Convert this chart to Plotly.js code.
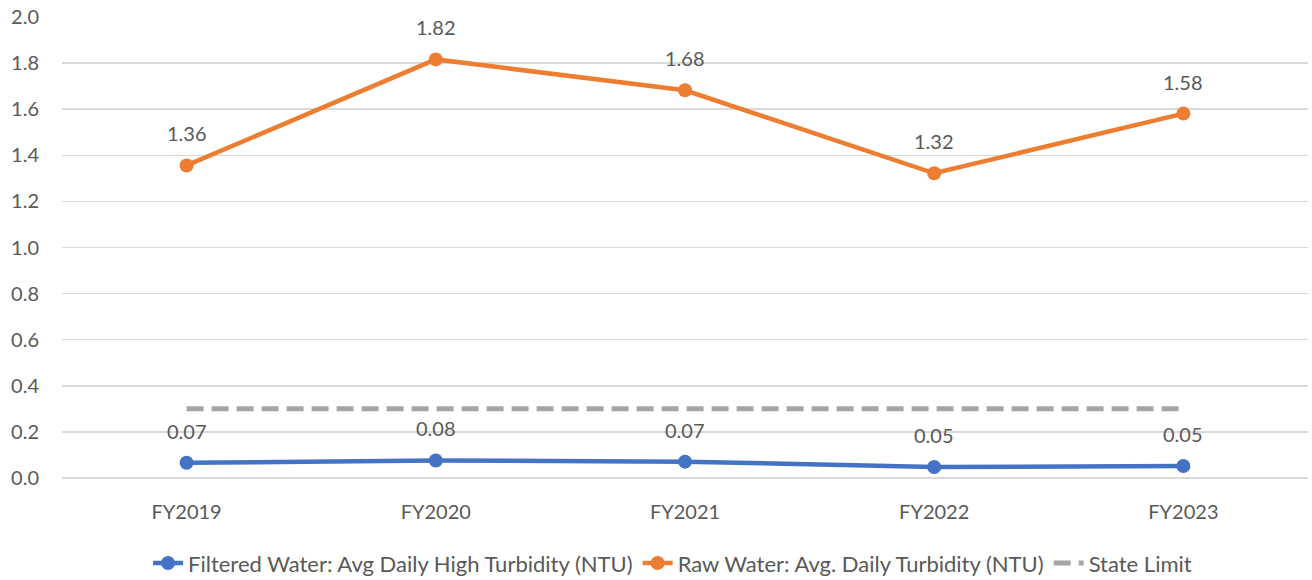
<!DOCTYPE html>
<html>
<head>
<meta charset="utf-8">
<script src="https://cdn.plot.ly/plotly-3.0.1.min.js"></script>
<style>html,body{margin:0;padding:0;background:#fff;}#chart{width:1312px;height:580px;}</style>
</head>
<body>
<div id="chart"></div>
<script>
const categories = ["FY2019", "FY2020", "FY2021", "FY2022", "FY2023"];
const filteredWater = [0.066, 0.076, 0.071, 0.048, 0.052];
const rawWater = [1.356, 1.816, 1.682, 1.322, 1.581];
const stateLimit = [0.3, 0.3, 0.3, 0.3, 0.3];
const yTicks = [0, 0.2, 0.4, 0.6, 0.8, 1.0, 1.2, 1.4, 1.6, 1.8, 2.0];

const FONT = "Lato, 'Open Sans', sans-serif";
const TXT = "#595959";

const traces = [
  {
    x: categories, y: filteredWater, type: "scatter", mode: "lines+markers",
    name: "Filtered Water: Avg Daily High Turbidity (NTU)",
    line: {color: "#4472C4", width: 4.5}, marker: {color: "#4472C4", size: 14}
  },
  {
    x: categories, y: rawWater, type: "scatter", mode: "lines+markers",
    name: "Raw Water: Avg. Daily Turbidity (NTU)",
    line: {color: "#ED7D31", width: 4.5}, marker: {color: "#ED7D31", size: 14}
  },
  {
    x: categories, y: stateLimit, type: "scatter", mode: "lines",
    name: "State Limit",
    line: {color: "#A5A5A5", width: 5, dash: "17px,8px"}
  }
];

const annotations = [];
[filteredWater, rawWater].forEach(series => {
  series.forEach((v, i) => {
    annotations.push({
      x: categories[i], y: v, xref: "x", yref: "y",
      text: v.toFixed(2), showarrow: false, yshift: 32,
      font: {family: FONT, size: 20, color: TXT}
    });
  });
});

const layout = {
  width: 1312, height: 580,
  margin: {l: 62, r: 4, t: 17, b: 102},
  paper_bgcolor: "#fff", plot_bgcolor: "#fff",
  font: {family: FONT, size: 20, color: TXT},
  showlegend: true,
  legend: {
    orientation: "h", x: 0.49, xanchor: "center",
    yref: "container", y: 0.029, yanchor: "middle",
    font: {family: FONT, size: 22, color: TXT}, traceorder: "normal",
    itemwidth: 30
  },
  xaxis: {
    type: "category", range: [-0.5, 4.5], showgrid: false, zeroline: false,
    showline: false, ticks: "outside", ticklen: 16, tickcolor: "rgba(0,0,0,0)",
    tickfont: {family: FONT, size: 20, color: TXT}, automargin: false
  },
  yaxis: {
    range: [0, 2], tickvals: yTicks, ticktext: yTicks.map(v => v.toFixed(1)),
    showgrid: true, gridcolor: "#D9D9D9", gridwidth: 1.5,
    zeroline: true, zerolinecolor: "#D9D9D9", zerolinewidth: 1.5,
    showline: false, ticks: "outside", ticklen: 18, tickcolor: "rgba(0,0,0,0)",
    tickfont: {family: FONT, size: 20, color: TXT}, automargin: false
  },
  annotations: annotations
};

Plotly.newPlot("chart", traces, layout, {displayModeBar: false, staticPlot: true});
</script>
</body>
</html>
